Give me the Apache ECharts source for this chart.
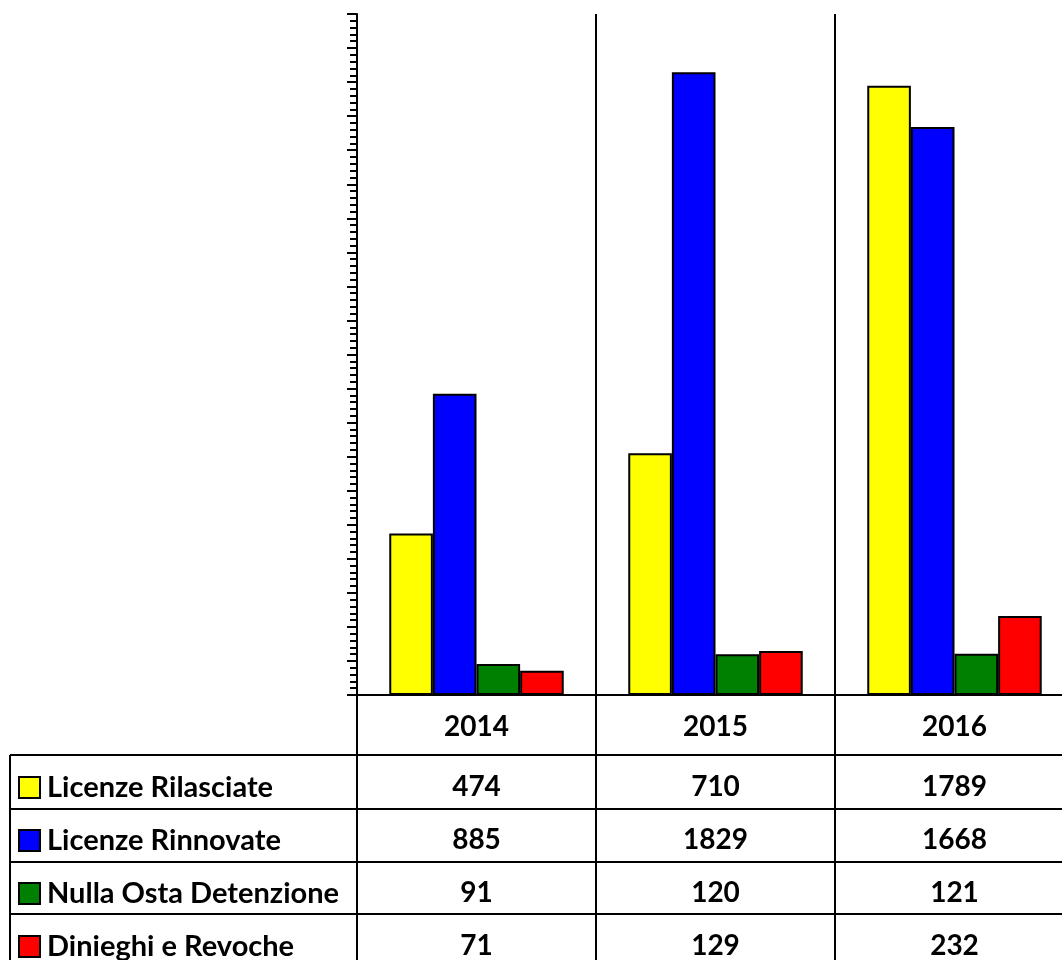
<!DOCTYPE html>
<html>
<head>
<meta charset="utf-8">
<script src="https://cdn.jsdelivr.net/npm/echarts@6/dist/echarts.min.js"></script>
<style>
  html, body { margin: 0; padding: 0; background: #fff; overflow: hidden; }
  #main { width: 1062px; height: 960px; }
</style>
</head>
<body>
<div id="main"></div>
<script>
// anni (categorie)
var years = ["2014", "2015", "2016"];
// serie
var rilasciate = [474, 710, 1789];
var rinnovate = [885, 1829, 1668];
var nullaOsta = [91, 120, 121];
var dinieghi = [71, 129, 232];

var seriesNames = ["Licenze Rilasciate", "Licenze Rinnovate", "Nulla Osta Detenzione", "Dinieghi e Revoche"];
var seriesData = [rilasciate, rinnovate, nullaOsta, dinieghi];
var seriesColors = ["#ffff00", "#0000ff", "#008000", "#ff0000"];

var font = "Lato";
var fontSize = 28;
var myChart = echarts.init(document.getElementById("main"));

// righe della tabella dati
var tableLines = [755, 809, 862, 914].map(function (y) {
  return { type: "line", shape: { x1: 10, y1: y, x2: 1062, y2: y }, style: { stroke: "#000", lineWidth: 2 } };
});
tableLines.push({ type: "line", shape: { x1: 10, y1: 755, x2: 10, y2: 960 }, style: { stroke: "#000", lineWidth: 2 } });

// una legenda per riga della tabella
var legends = seriesNames.map(function (name, i) {
  return {
    orient: "vertical",
    left: 18,
    top: 773 + 53 * i,
    padding: 0,
    itemWidth: 21,
    itemHeight: 21,
    icon: "rect",
    selectedMode: false,
    itemStyle: { borderColor: "#000", borderWidth: 2 },
    textStyle: { fontFamily: font, fontWeight: "bold", fontSize: 29, color: "#000", lineHeight: 28, padding: [0, 0, 0, 2] },
    data: [name]
  };
});

var option = {
  animation: false,
  backgroundColor: "#fff",
  grid: { left: 357, top: 14, width: 717, height: 681, outerBoundsMode: "none" },
  legend: legends,
  xAxis: {
    type: "category",
    data: years,
    axisLine: { show: true, lineStyle: { color: "#000", width: 2 } },
    axisTick: { show: true, length: 270, lineStyle: { color: "#000", width: 2 } },
    splitLine: { show: true, lineStyle: { color: "#000", width: 2 } },
    axisLabel: {
      interval: 0,
      margin: -2,
      formatter: function (value, idx) {
        var s = "{y|" + value + "}";
        seriesData.forEach(function (d) { s += "\n{v|" + d[idx] + "}"; });
        return s;
      },
      rich: {
        y: { fontFamily: font, fontWeight: "bold", fontSize: fontSize, color: "#000", lineHeight: 67 },
        v: { fontFamily: font, fontWeight: "bold", fontSize: fontSize, color: "#000", lineHeight: 53 }
      }
    }
  },
  yAxis: {
    type: "value",
    min: 0,
    max: 2000,
    interval: 100,
    axisLine: { show: true, lineStyle: { color: "#000", width: 2 } },
    axisTick: { show: true, length: 10, lineStyle: { color: "#000", width: 2 } },
    minorTick: { show: true, splitNumber: 5, length: 7, lineStyle: { color: "#000", width: 2 } },
    axisLabel: { show: false },
    splitLine: { show: false }
  },
  graphic: tableLines,
  series: seriesNames.map(function (name, i) {
    return {
      name: name,
      type: "bar",
      data: seriesData[i],
      barGap: "0%",
      barCategoryGap: "27%",
      itemStyle: { color: seriesColors[i], borderColor: "#000", borderWidth: 2 }
    };
  })
};

myChart.setOption(option);
</script>
</body>
</html>
